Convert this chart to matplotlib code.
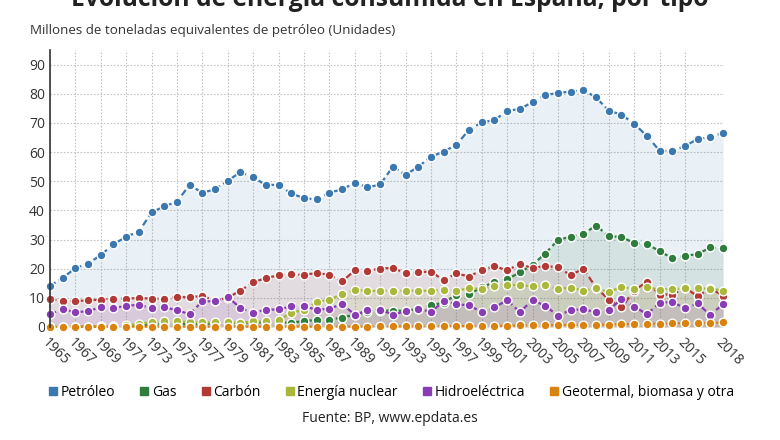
import numpy as np
import matplotlib
matplotlib.use("Agg")
from matplotlib import pyplot as plt
from matplotlib.lines import Line2D

plt.rcParams['font.family'] = ['Open Sans', 'DejaVu Sans']

# Data (Mtep)
years = list(range(1965, 2019))

petroleo = [14.1, 16.8, 20.2, 21.7, 24.7, 28.3, 31.0, 32.7, 39.3, 41.4,
            43.0, 48.8, 46.0, 47.3, 50.2, 53.1, 51.4, 48.7, 48.8, 45.8,
            44.2, 43.8, 46.1, 47.2, 49.5, 47.9, 48.9, 55.0, 52.2, 55.0,
            58.4, 60.2, 62.5, 67.7, 70.2, 71.0, 74.2, 74.8, 77.2, 79.6,
            80.3, 80.8, 81.3, 78.8, 74.2, 72.9, 69.7, 65.6, 60.5, 60.3,
            62.1, 64.5, 65.1, 66.7]

gas = [0.0, 0.0, 0.0, 0.0, 0.1, 0.2, 0.3, 0.4, 0.9, 1.0,
       1.0, 1.0, 1.0, 1.2, 1.2, 1.4, 1.6, 1.5, 1.4, 1.5,
       2.0, 2.4, 2.5, 3.2, 4.2, 5.0, 5.6, 5.6, 5.5, 6.2,
       7.5, 8.3, 11.1, 11.3, 13.6, 15.4, 16.4, 18.7, 21.3, 25.2,
       29.8, 31.0, 31.9, 34.8, 31.1, 30.9, 28.8, 28.5, 26.0, 23.6,
       24.4, 25.0, 27.3, 27.0]

carbon = [9.6, 8.9, 8.9, 9.1, 9.4, 9.7, 9.7, 9.9, 9.7, 9.6,
          10.4, 10.1, 10.7, 9.0, 10.0, 12.5, 15.3, 16.8, 17.7, 18.0,
          17.9, 18.5, 17.9, 15.6, 19.4, 19.3, 20.0, 20.3, 18.4, 18.8,
          19.0, 16.0, 18.4, 17.3, 19.5, 20.9, 19.4, 21.7, 20.1, 21.0,
          20.4, 17.8, 20.0, 13.5, 9.4, 6.7, 12.5, 15.5, 11.1, 11.1,
          13.5, 10.5, 13.3, 10.7]

nuclear = [0.0, 0.0, 0.0, 0.1, 0.2, 0.2, 0.6, 1.1, 1.6, 1.9,
           1.9, 1.7, 1.6, 1.6, 1.7, 1.4, 1.9, 1.9, 2.3, 4.8,
           5.9, 8.6, 9.3, 11.3, 12.8, 12.3, 12.4, 12.5, 12.4, 12.4,
           12.4, 12.8, 12.5, 13.2, 13.1, 14.1, 14.4, 14.4, 13.9, 14.3,
           13.0, 13.5, 12.5, 13.2, 12.0, 13.7, 13.0, 13.7, 12.8, 13.0,
           13.2, 13.2, 13.1, 12.5]

hidro = [4.3, 6.2, 5.0, 5.4, 6.8, 6.5, 7.2, 7.6, 6.5, 6.8,
         5.7, 4.4, 8.8, 8.8, 10.3, 6.5, 4.9, 5.9, 6.0, 7.1,
         7.1, 5.9, 6.2, 7.9, 4.2, 5.7, 5.9, 4.2, 5.4, 6.3,
         5.1, 8.9, 7.8, 7.4, 5.1, 6.7, 9.2, 5.1, 9.2, 7.2,
         3.9, 5.8, 6.0, 5.1, 5.9, 9.5, 7.0, 4.4, 8.2, 8.6,
         6.4, 8.1, 4.0, 7.9]

geotermal = [0.1, 0.1, 0.1, 0.1, 0.1, 0.1, 0.1, 0.1, 0.1, 0.1,
             0.1, 0.1, 0.1, 0.1, 0.1, 0.1, 0.1, 0.1, 0.1, 0.1,
             0.1, 0.1, 0.1, 0.1, 0.1, 0.1, 0.2, 0.2, 0.2, 0.2,
             0.2, 0.3, 0.3, 0.3, 0.4, 0.4, 0.4, 0.5, 0.6, 0.6,
             0.7, 0.7, 0.7, 0.8, 0.8, 0.9, 1.0, 1.1, 1.1, 1.2,
             1.3, 1.3, 1.3, 1.6]

names = ["Petróleo", "Gas", "Carbón", "Energía nuclear", "Hidroeléctrica",
         "Geotermal, biomasa y otra"]
colors = ["#3b78b0", "#2e7d3c", "#b23a36", "#a9b83b", "#8a3cb4", "#d9820f"]
series = [petroleo, gas, carbon, nuclear, hidro, geotermal]

xtick_years = list(range(1965, 2017, 2)) + [2018]

fig = plt.figure(figsize=(7.8, 4.4), dpi=100)
ax = fig.add_axes([0.064, 0.257, 0.863, 0.629])

for vals, c in zip(series, colors):
    ax.fill_between(years, vals, 0, color=c, alpha=0.11, linewidth=0)

for vals, c in zip(series, colors):
    ax.plot(years, vals, color=c, linestyle=(0, (3, 1.6)), linewidth=1.6,
            marker='o', markersize=6.3, markerfacecolor=c,
            markeredgecolor='white', markeredgewidth=1.0, clip_on=False)

ax.set_xlim(1965, 2018)
ax.set_ylim(0, 95)
ax.set_yticks(range(0, 100, 10))
ax.set_xticks(xtick_years)
ax.set_xticklabels([str(y) for y in xtick_years], rotation=-45,
                   ha='left', va='top', rotation_mode='anchor')
ax.tick_params(axis='both', length=0, labelsize=10, colors='#333333')
ax.tick_params(axis='x', pad=6)
ax.grid(True, color='#c4c4c4', linestyle=(0, (1.5, 1.5)), linewidth=0.8)
ax.set_axisbelow(True)
for side in ['top', 'right', 'bottom']:
    ax.spines[side].set_visible(False)
ax.spines['left'].set_color('#333333')
ax.spines['left'].set_linewidth(1.2)

fig.text(0.5, 1.0, "Evolución de energía consumida en España, por tipo",
         ha='center', va='center', fontsize=17.7, fontweight='bold', color='#222222')
fig.text(0.038, 0.93, "Millones de toneladas equivalentes de petróleo (Unidades)",
         ha='left', va='center', fontsize=9.6, color='#333333')

handles = [Line2D([], [], marker='s', linestyle='none', markersize=6,
                  markerfacecolor=c, markeredgecolor=c) for c in colors]
fig.legend(handles, names, loc='center', bbox_to_anchor=(0.5, 0.108), ncol=6,
           frameon=False, fontsize=10, handletextpad=0.05, columnspacing=1.6,
           handlelength=1.0)
fig.text(0.5, 0.05, "Fuente: BP, www.epdata.es", ha='center', va='center',
         fontsize=10, color='#222222')

fig.savefig("out.png", dpi=100)
